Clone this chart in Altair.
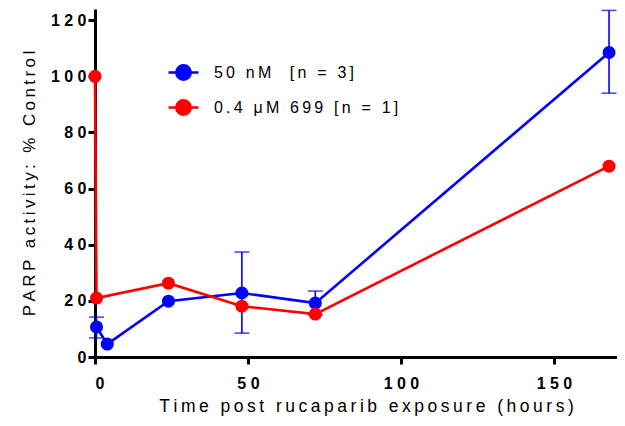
import altair as alt
import pandas as pd

TS = "\u2009"

def spaced(s):
    return TS.join(list(s))

series = ["50 nM  [n = 3]", "0.4 μM 699 [n = 1]"]
colors = ["#0000FF", "#FF0000"]

blue_x = [0.5, 4, 24, 48, 72, 168]
blue_y = [10.7, 4.6, 19.9, 22.8, 19.2, 108.5]

red_x = [0, 0.5, 24, 48, 72, 168]
red_y = [100.0, 21.0, 26.3, 18.1, 15.3, 68.0]

err_x = [0.5, 48, 72, 168]
err_lo = [6.8, 8.5, 15.0, 94.0]
err_hi = [14.2, 37.4, 23.5, 123.5]

x_ticks = [0, 50, 100, 150]
y_ticks = [0, 20, 40, 60, 80, 100, 120]

rows = []
for x, y in zip(blue_x, blue_y):
    rows.append({"t": x, "v": y, "s": series[0]})
for x, y in zip(red_x, red_y):
    rows.append({"t": x, "v": y, "s": series[1]})
df = pd.DataFrame(rows)
err = pd.DataFrame({"t": err_x, "lo": err_lo, "hi": err_hi, "s": series[0]})

xs = alt.Scale(domain=[0, 170.6], nice=False, zero=False)
ys = alt.Scale(domain=[0, 124], nice=False)
cs = alt.Scale(domain=series, range=colors)

tick_expr = "join(split(datum.label, ''), ' ')"
legend_expr = "join(split(datum.label, ''), '\u2009')"

legend = alt.Legend(
    title=None, orient="none", legendX=77, legendY=52,
    symbolType="M-1.5,0H1.5M0.72,0A0.72,0.72,0,1,1,-0.72,0A0.72,0.72,0,1,1,0.72,0Z",
    symbolSize=400, symbolStrokeWidth=2.5, symbolOpacity=1,
    labelFont="Liberation Sans", labelFontSize=16, labelColor="black", labelLimit=400,
    labelExpr=legend_expr, rowPadding=10, labelOffset=19,
)

xaxis = alt.Axis(values=x_ticks, title=spaced("Time post rucaparib exposure (hours)"),
                 labelExpr=tick_expr, grid=False, titleX=271, labelPadding=11,
                 titlePadding=6, titleFontSize=17.5)
yaxis = alt.Axis(values=y_ticks, title=spaced("PARP activity: % Control"),
                 labelExpr=tick_expr, grid=False, labelPadding=2, titlePadding=12,
                 titleFontSize=17)

color = alt.Color("s:N", scale=cs, legend=legend)

layers = []
layers.append(alt.Chart(err).mark_rule(strokeWidth=1.6, color=colors[0]).encode(
    x=alt.X("t:Q", scale=xs, axis=xaxis), y=alt.Y("lo:Q", scale=ys, axis=yaxis), y2="hi:Q"))
for col in ["lo", "hi"]:
    layers.append(alt.Chart(err).mark_tick(orient="horizontal", size=15, thickness=1.6,
                                           color=colors[0]).encode(
        x=alt.X("t:Q", scale=xs), y=alt.Y(f"{col}:Q", scale=ys)))

for s in series:
    base = alt.Chart(df).transform_filter(alt.datum.s == s)
    layers.append(base.mark_line(strokeWidth=2.6).encode(
        x=alt.X("t:Q", scale=xs, axis=xaxis), y=alt.Y("v:Q", scale=ys, axis=yaxis), color=color))
    layers.append(base.mark_point(filled=True, size=170, opacity=1, shape="circle").encode(
        x=alt.X("t:Q", scale=xs), y=alt.Y("v:Q", scale=ys), color=color))

chart = alt.layer(*layers).properties(
    width=522, height=348,
    padding={"left": 87, "top": 1, "right": 0, "bottom": 62},
    autosize="none",
).configure_view(stroke=None).configure_axis(
    domainColor="black", domainWidth=3, tickColor="black", tickWidth=3, tickSize=7,
    labelFont="Liberation Sans", labelFontWeight="bold", labelFontSize=16, labelColor="black",
    titleFont="Liberation Sans", titleFontWeight="normal",
    titleColor="black",
)

chart.save("out.html", embed_options={"renderer": "svg", "actions": False})
